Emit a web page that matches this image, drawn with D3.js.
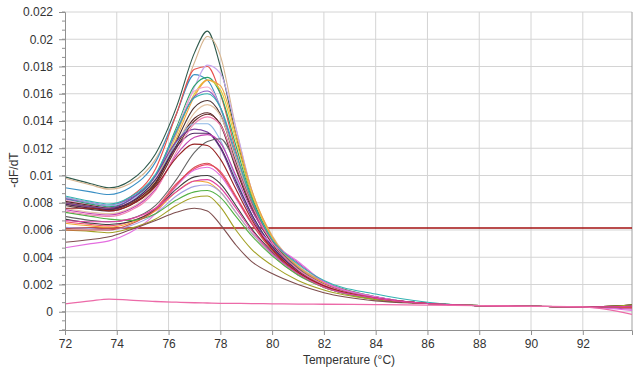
<!DOCTYPE html>
<html>
<head>
<meta charset="utf-8">
<script src="https://cdn.jsdelivr.net/npm/d3@7"></script>
<style>
  body { margin: 0; background: #fff; }
  svg { display: block; font-family: "Liberation Sans", Arial, sans-serif; }
  .tick text { fill: #333; font-size: 12px; }
  .axis-title { fill: #333; font-size: 12px; }
</style>
</head>
<body>
<svg id="chart"></svg>
<script>
// temperatures (°C) where each melt curve was read
const temps = [72, 73, 73.7, 74.5, 75.5, 76.3, 77, 77.5, 78, 78.6, 79.2, 80, 81, 82, 84, 86, 88, 90, 92, 93.9];

// -dF/dT for each well, same order as temps
const curves = [
  [0.0099, 0.0094, 0.0091, 0.0096, 0.0116, 0.0150, 0.0190, 0.0206, 0.0180, 0.0130, 0.0086, 0.0054, 0.0033, 0.0022, 0.0011, 0.0006, 0.00045, 0.0004, 0.00035, 0.0004],
  [0.0098, 0.0093, 0.0090, 0.0094, 0.0112, 0.0145, 0.0183, 0.0202, 0.0188, 0.0135, 0.0090, 0.0056, 0.0034, 0.0022, 0.0011, 0.0006, 0.00045, 0.0004, 0.00035, 0.0004],
  [0.0091, 0.0088, 0.0086, 0.0091, 0.0110, 0.0145, 0.0174, 0.0170, 0.0150, 0.0110, 0.0078, 0.0050, 0.0031, 0.0020, 0.0010, 0.0006, 0.00045, 0.0004, 0.00035, 0.0003],
  [0.0084, 0.0080, 0.0078, 0.0084, 0.0105, 0.0145, 0.0178, 0.0180, 0.0160, 0.0118, 0.0082, 0.0052, 0.0032, 0.0021, 0.0010, 0.0006, 0.00045, 0.0004, 0.00035, 0.0003],
  [0.0082, 0.0079, 0.0077, 0.0081, 0.0098, 0.0130, 0.0165, 0.0181, 0.0175, 0.0135, 0.0090, 0.0054, 0.0033, 0.0021, 0.0010, 0.0006, 0.00045, 0.0004, 0.00035, 0.0004],
  [0.0083, 0.0079, 0.0077, 0.0082, 0.0100, 0.0135, 0.0166, 0.0172, 0.0160, 0.0122, 0.0084, 0.0053, 0.0032, 0.0021, 0.0010, 0.0006, 0.00045, 0.0004, 0.00035, 0.0004],
  [0.0080, 0.0077, 0.0076, 0.0080, 0.0097, 0.0130, 0.0160, 0.0170, 0.0163, 0.0126, 0.0087, 0.0054, 0.0032, 0.0021, 0.0010, 0.0006, 0.00045, 0.0004, 0.00035, 0.0004],
  [0.0079, 0.0076, 0.0075, 0.0079, 0.0095, 0.0127, 0.0158, 0.0170, 0.0166, 0.0130, 0.0090, 0.0055, 0.0033, 0.0021, 0.0010, 0.0006, 0.00045, 0.0004, 0.00035, 0.0005],
  [0.0082, 0.0078, 0.0076, 0.0080, 0.0098, 0.0133, 0.0162, 0.0165, 0.0150, 0.0112, 0.0078, 0.0050, 0.0031, 0.0020, 0.0010, 0.0006, 0.00045, 0.0004, 0.00035, 0.0003],
  [0.0083, 0.0080, 0.0078, 0.0083, 0.0100, 0.0132, 0.0158, 0.0162, 0.0150, 0.0113, 0.0080, 0.0051, 0.0031, 0.0020, 0.0010, 0.0006, 0.00045, 0.0004, 0.00035, 0.0004],
  [0.0078, 0.0075, 0.0074, 0.0078, 0.0094, 0.0125, 0.0150, 0.0155, 0.0145, 0.0110, 0.0079, 0.0051, 0.0031, 0.0020, 0.0010, 0.0006, 0.00045, 0.0004, 0.00035, 0.0005],
  [0.0076, 0.0073, 0.0072, 0.0076, 0.0092, 0.0122, 0.0146, 0.0152, 0.0144, 0.0112, 0.0080, 0.0052, 0.0032, 0.0020, 0.0010, 0.0006, 0.00045, 0.0004, 0.00035, 0.0004],
  [0.0081, 0.0078, 0.0076, 0.0080, 0.0095, 0.0122, 0.0142, 0.0146, 0.0137, 0.0105, 0.0076, 0.0050, 0.0031, 0.0020, 0.0010, 0.0006, 0.00045, 0.0004, 0.00035, 0.0004],
  [0.0080, 0.0077, 0.0075, 0.0079, 0.0093, 0.0120, 0.0140, 0.0145, 0.0138, 0.0107, 0.0078, 0.0051, 0.0031, 0.0020, 0.0010, 0.0006, 0.00045, 0.0004, 0.00035, 0.0005],
  [0.0084, 0.0080, 0.0078, 0.0082, 0.0097, 0.0124, 0.0138, 0.0138, 0.0126, 0.0098, 0.0072, 0.0048, 0.0030, 0.0019, 0.0010, 0.0006, 0.00045, 0.0004, 0.00035, 0.0003],
  [0.0080, 0.0077, 0.0076, 0.0082, 0.0100, 0.0125, 0.0134, 0.0132, 0.0120, 0.0094, 0.0070, 0.0047, 0.0030, 0.0019, 0.0010, 0.0006, 0.00045, 0.0004, 0.00035, 0.0004],
  [0.0079, 0.0076, 0.0075, 0.0080, 0.0097, 0.0121, 0.0131, 0.0131, 0.0121, 0.0096, 0.0072, 0.0048, 0.0030, 0.0019, 0.0010, 0.0006, 0.00045, 0.0004, 0.00035, 0.0004],
  [0.0075, 0.0072, 0.0071, 0.0075, 0.0090, 0.0115, 0.0128, 0.0130, 0.0124, 0.0100, 0.0075, 0.0052, 0.0036, 0.0022, 0.0011, 0.0006, 0.00045, 0.0004, 0.00035, 0.0002],
  [0.0070, 0.0067, 0.0066, 0.0068, 0.0078, 0.0097, 0.0117, 0.0125, 0.0127, 0.0108, 0.0080, 0.0052, 0.0032, 0.0020, 0.0010, 0.0006, 0.00045, 0.0004, 0.00035, 0.0004],
  [0.0066, 0.0064, 0.0063, 0.0066, 0.0076, 0.0094, 0.0105, 0.0108, 0.0103, 0.0085, 0.0066, 0.0046, 0.0029, 0.0019, 0.0010, 0.0006, 0.00045, 0.0004, 0.00035, 0.0003],
  [0.0047, 0.0050, 0.0052, 0.0058, 0.0072, 0.0092, 0.0104, 0.0106, 0.0100, 0.0083, 0.0065, 0.0050, 0.0037, 0.0022, 0.0011, 0.0006, 0.00045, 0.0004, 0.00035, 0.0001],
  [0.0068, 0.0065, 0.0064, 0.0066, 0.0075, 0.0090, 0.0099, 0.0100, 0.0094, 0.0078, 0.0061, 0.0044, 0.0028, 0.0018, 0.0010, 0.0006, 0.00045, 0.0004, 0.00035, 0.0005],
  [0.0065, 0.0063, 0.0062, 0.0065, 0.0074, 0.0088, 0.0096, 0.0095, 0.0088, 0.0073, 0.0058, 0.0042, 0.0027, 0.0018, 0.0009, 0.0006, 0.00045, 0.0004, 0.00035, 0.0004],
  [0.0062, 0.0061, 0.0060, 0.0063, 0.0072, 0.0085, 0.0092, 0.0093, 0.0088, 0.0073, 0.0058, 0.0042, 0.0027, 0.0018, 0.0009, 0.0006, 0.00045, 0.0004, 0.00035, 0.0004],
  [0.0073, 0.0070, 0.0068, 0.0067, 0.0072, 0.0082, 0.0088, 0.0089, 0.0084, 0.0070, 0.0056, 0.0041, 0.0027, 0.0018, 0.0009, 0.0006, 0.00045, 0.0004, 0.00035, 0.0004],
  [0.0060, 0.0059, 0.0058, 0.0061, 0.0068, 0.0078, 0.0084, 0.0085, 0.0077, 0.0060, 0.0046, 0.0034, 0.0023, 0.0016, 0.0009, 0.0006, 0.00045, 0.0004, 0.00035, 0.0005],
  [0.0051, 0.0053, 0.0055, 0.0060, 0.0067, 0.0073, 0.0076, 0.0074, 0.0064, 0.0049, 0.0037, 0.0028, 0.0020, 0.0014, 0.0008, 0.0006, 0.00045, 0.0004, 0.00035, 0.0004],
  [0.0060, 0.0060, 0.0060, 0.0064, 0.0075, 0.0093, 0.0106, 0.0109, 0.0102, 0.0084, 0.0065, 0.0045, 0.0029, 0.0019, 0.0010, 0.0006, 0.00045, 0.0004, 0.00035, 0.0003],
  [0.0085, 0.0081, 0.0079, 0.0084, 0.0101, 0.0133, 0.0157, 0.0160, 0.0150, 0.0116, 0.0083, 0.0053, 0.0035, 0.0023, 0.0013, 0.0007, 0.00045, 0.0004, 0.00035, 0.0004],
  [0.0074, 0.0071, 0.0070, 0.0074, 0.0089, 0.0117, 0.0138, 0.0143, 0.0137, 0.0108, 0.0079, 0.0051, 0.0031, 0.0020, 0.0010, 0.0006, 0.00045, 0.0004, 0.00035, 0.0004],
  [0.0076, 0.0076, 0.0074, 0.0078, 0.0092, 0.0113, 0.0123, 0.0122, 0.0112, 0.0090, 0.0068, 0.0046, 0.0029, 0.0019, 0.0010, 0.0006, 0.00045, 0.0004, 0.00035, 0.0004],
  [0.0067, 0.0066, 0.0066, 0.0068, 0.0076, 0.0088, 0.0096, 0.0097, 0.0091, 0.0076, 0.0060, 0.0043, 0.0028, 0.0018, 0.0010, 0.0006, 0.00045, 0.0004, 0.00035, 0.0004]
];

const curveColors = [
  "#2f5a4c", "#d6b48e", "#3a8fc4", "#e8504c", "#c6a8ee", "#2ea36c", "#e2d035", "#f0a23e",
  "#f2a6ca", "#8552c2", "#4e3434", "#e2c2a2", "#5a2626", "#6c3030", "#8eb8e6", "#7a42a2",
  "#4e2862", "#c242b2", "#646464", "#f04a72", "#e46ee0", "#3e3e3e", "#f0a434", "#a2a2e2",
  "#52b044", "#a2a024", "#7e4e4e", "#d45050", "#32b2b2", "#f282b2", "#962222", "#e042a2"
];

// no-template control well near the baseline
const ntcCurve = [0.00057, 0.0008, 0.00093, 0.00085, 0.00075, 0.0007, 0.00066, 0.00064, 0.00062, 0.00061, 0.0006, 0.00058, 0.00056, 0.00055, 0.00052, 0.00049, 0.00045, 0.0004, 0.00035, -0.0002];

const threshold = 0.00614;

const xTicks = [72, 74, 76, 78, 80, 82, 84, 86, 88, 90, 92];
const yTicks = [0, 0.002, 0.004, 0.006, 0.008, 0.01, 0.012, 0.014, 0.016, 0.018, 0.02, 0.022];

const width = 644, height = 379;
const margin = {top: 12, right: 12, bottom: 49, left: 65};
const innerW = width - margin.left - margin.right;
const innerH = height - margin.top - margin.bottom;

const svg = d3.select('#chart')
    .attr('width', width)
    .attr('height', height);

const chart = svg.append('g')
    .attr('transform', `translate(${margin.left},${margin.top})`);

const xScale = d3.scaleLinear().domain([72, 93.9]).range([0, innerW]);
const yScale = d3.scaleLinear().domain([-0.00134, 0.022]).range([innerH, 0]);

chart.append('clipPath').attr('id', 'plot-clip')
  .append('rect').attr('width', innerW).attr('height', innerH);

// gridlines
chart.append('g')
    .selectAll('line.vgrid')
    .data(xTicks.slice(1))
  .join('line')
    .attr('x1', d => xScale(d)).attr('x2', d => xScale(d))
    .attr('y1', 0).attr('y2', innerH)
    .attr('stroke', '#d4d4d4');

chart.append('g')
    .selectAll('line.hgrid')
    .data(yTicks)
  .join('line')
    .attr('x1', 0).attr('x2', innerW)
    .attr('y1', d => yScale(d)).attr('y2', d => yScale(d))
    .attr('stroke', '#d4d4d4');

// right border
chart.append('line')
    .attr('x1', innerW).attr('x2', innerW)
    .attr('y1', 0).attr('y2', innerH)
    .attr('stroke', '#a0a0a0');

const line = d3.line()
    .x((d, i) => xScale(temps[i]))
    .y(d => yScale(d))
    .curve(d3.curveMonotoneX);

const plot = chart.append('g').attr('clip-path', 'url(#plot-clip)');

plot.append('line')
    .attr('x1', 0).attr('x2', innerW)
    .attr('y1', yScale(threshold)).attr('y2', yScale(threshold))
    .attr('stroke', '#a31010')
    .attr('stroke-width', 1.5);

plot.selectAll('.curve')
    .data(curves)
  .join('path')
    .attr('class', 'curve')
    .attr('d', line)
    .attr('fill', 'none')
    .attr('stroke', (d, i) => curveColors[i])
    .attr('stroke-width', 1.1);

plot.append('path')
    .attr('d', line(ntcCurve))
    .attr('fill', 'none')
    .attr('stroke', '#ec6aa8')
    .attr('stroke-width', 1.3);

// axes
const xAxis = d3.axisBottom(xScale)
    .tickValues(xTicks)
    .tickSize(5)
    .tickPadding(4)
    .tickFormat(d3.format('d'));

const yAxis = d3.axisLeft(yScale)
    .tickValues(yTicks)
    .tickSize(6)
    .tickPadding(6)
    .tickFormat(d => d === 0 ? '0' : String(+d.toFixed(3)));

const xAxisG = chart.append('g')
    .attr('transform', `translate(0,${innerH})`)
    .call(xAxis);

const yAxisG = chart.append('g').call(yAxis);

// minor y ticks every third of a major step
const minorY = d3.range(-2, 34).map(k => k * 0.002 / 3).filter(v => v > -0.00134 && v <= 0.0221);
yAxisG.selectAll('.minor')
    .data(minorY)
  .join('line')
    .attr('class', 'minor')
    .attr('x1', -3).attr('x2', 0)
    .attr('y1', d => yScale(d)).attr('y2', d => yScale(d))
    .attr('stroke', '#909090');

[xAxisG, yAxisG].forEach(g => {
  g.select('.domain').attr('stroke', '#909090');
  g.selectAll('.tick line').attr('stroke', '#909090');
});

svg.append('text')
    .attr('class', 'axis-title')
    .attr('x', 349)
    .attr('y', 364)
    .attr('text-anchor', 'middle')
    .text('Temperature (°C)');

svg.append('text')
    .attr('class', 'axis-title')
    .attr('transform', 'translate(18,170) rotate(-90)')
    .attr('text-anchor', 'middle')
    .text('-dF/dT');
</script>
</body>
</html>
